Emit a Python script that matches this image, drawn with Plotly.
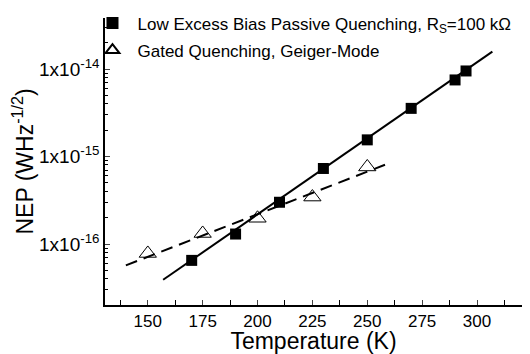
import plotly.graph_objects as go

# Data
temp_passive = [170, 190, 210, 230, 250, 270, 290, 295]
nep_passive = [6.5e-17, 1.3e-16, 3.0e-16, 7.3e-16, 1.55e-15, 3.55e-15, 7.5e-15, 9.5e-15]

temp_gated = [150, 175, 200, 225, 250]
nep_gated = [7.8e-17, 1.32e-16, 1.97e-16, 3.44e-16, 7.6e-16]

fit_passive_x = [157, 307]
fit_passive_y = [3.9e-17, 1.58e-14]
fit_gated_x = [140, 260]
fit_gated_y = [5.7e-17, 8.4e-16]

x_ticks = [150, 175, 200, 225, 250, 275, 300]
x_minor = [137.5, 162.5, 187.5, 212.5, 237.5, 262.5, 287.5, 312.5]
y_ticks = [1e-16, 1e-15, 1e-14]
y_ticktext = ["1x10<sup>-16</sup>", "1x10<sup>-15</sup>", "1x10<sup>-14</sup>"]
y_minor = [m * d for d in [1e-17, 1e-16, 1e-15, 1e-14] for m in range(2, 10)]

FONT = "Liberation Sans, Arial, sans-serif"

fig = go.Figure()
fig.add_trace(go.Scatter(x=fit_passive_x, y=fit_passive_y, mode="lines",
                         line=dict(color="black", width=2), showlegend=False, hoverinfo="skip"))
fig.add_trace(go.Scatter(x=fit_gated_x, y=fit_gated_y, mode="lines",
                         line=dict(color="black", width=2, dash="12px,7px"), showlegend=False, hoverinfo="skip"))
fig.add_trace(go.Scatter(x=temp_passive, y=nep_passive, mode="markers", legendgroup="a",
                         name="Low Excess Bias Passive Quenching, R<sub>S</sub>=100 kΩ",
                         marker=dict(symbol="square", size=11, color="black")))
fig.add_trace(go.Scatter(x=temp_gated, y=nep_gated, mode="markers", legendgroup="b",
                         name="Gated Quenching, Geiger-Mode",
                         marker=dict(symbol="triangle-up-open", size=15, color="black",
                                     line=dict(width=1))))

fig.update_layout(
    width=522, height=346,
    margin=dict(l=97, r=8, t=10, b=49, autoexpand=False),
    paper_bgcolor="white", plot_bgcolor="white",
    font=dict(family=FONT, size=17, color="black"),
    legend=dict(x=-0.042, y=1.044, xanchor="left", yanchor="top", tracegroupgap=2,
                itemwidth=40,
                bgcolor="rgba(0,0,0,0)", font=dict(size=17), itemsizing="constant"),
    xaxis=dict(range=[130.5, 320.5], tickvals=x_ticks, ticks="inside", ticklen=5,
               showline=True, linecolor="black", linewidth=1.5, showgrid=False, zeroline=False,
               tickfont=dict(size=17), automargin=False,
               minor=dict(tickvals=x_minor, ticks="inside", ticklen=5, tickcolor="black"),
               title=dict(text="Temperature (K)", font=dict(size=23), standoff=1)),
    yaxis=dict(type="log", range=[-16.697, -13.417], tickvals=y_ticks, ticktext=y_ticktext,
               ticks="inside", ticklen=5, showline=True, linecolor="black", linewidth=1.5,
               showgrid=False, zeroline=False, tickfont=dict(size=19), automargin=False,
               minor=dict(tickvals=y_minor, ticks="inside", ticklen=3, tickcolor="black", showgrid=False),
               title=dict(text="NEP (WHz<sup>-1/2</sup>)", font=dict(size=23), standoff=2)),
)

fig.write_html("out.html")
